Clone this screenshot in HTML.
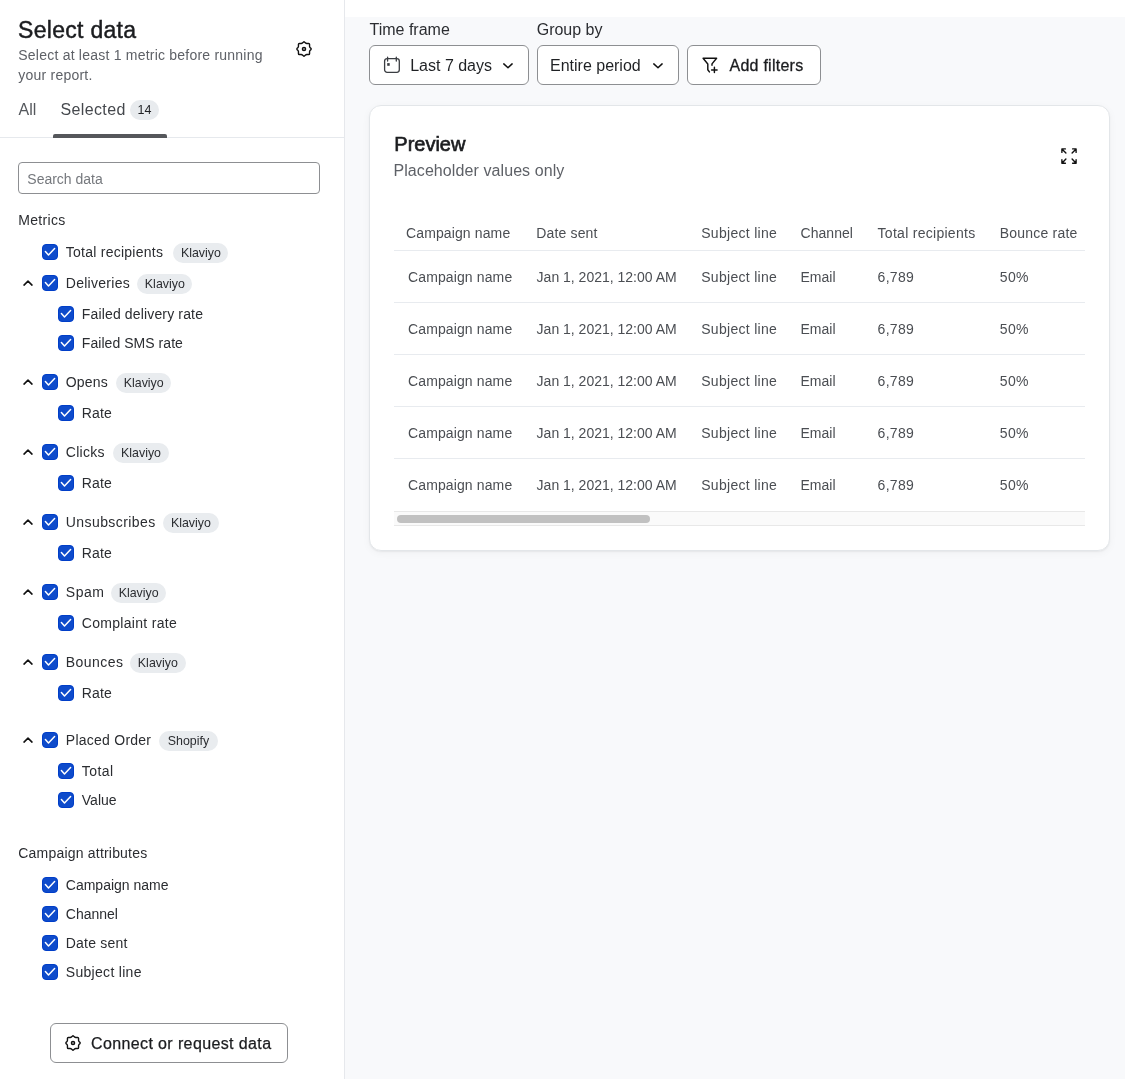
<!DOCTYPE html>
<html><head><meta charset="utf-8"><style>
html,body{margin:0;padding:0;width:1125px;height:1079px;overflow:hidden;background:#fff;font-family:"Liberation Sans", sans-serif;}
.a{position:absolute;}
.t{position:absolute;white-space:nowrap;}
#right{position:absolute;left:345px;top:17px;width:780px;height:1062px;background:#f8f9fb;}
#divider{position:absolute;left:344px;top:0;width:1px;height:1079px;background:#e6e8ec;}
.badge{position:absolute;height:20px;border-radius:10px;background:#e9ecef;color:#2b2d31;font-size:12.4px;line-height:20px;text-align:center;}
.card{background:#fff;border:1px solid #e3e6e9;border-radius:12px;box-sizing:border-box;box-shadow:0 1px 2px rgba(0,0,0,0.06), 0 2px 8px rgba(0,0,0,0.04);}
svg{display:block;overflow:visible}
#layer{position:absolute;left:0;top:0;width:1125px;height:1079px;will-change:transform;}
</style></head><body>
<div id="right"></div>
<div id="divider"></div>
<div id="layer"><div class="t" style="left:18.00px;top:18.73px;font-size:23px;line-height:23px;color:#1b1c1f;font-weight:400;letter-spacing:0.3px;-webkit-text-stroke:0.45px #1b1c1f">Select data</div>
<div class="t" style="left:18.30px;top:47.95px;font-size:14px;line-height:14px;color:#5e6167;font-weight:400;letter-spacing:0.22px">Select at least 1 metric before running</div>
<div class="t" style="left:18.30px;top:67.85px;font-size:14px;line-height:14px;color:#5e6167;font-weight:400;letter-spacing:0.22px">your report.</div>
<div class="a" style="left:296px;top:41px;width:16px;height:16px"><svg width="16" height="16" viewBox="0 0 16 16"><path d="M7.36 1.14 Q8.00 0.50 8.64 1.14 L9.31 1.81 Q9.95 2.45 10.85 2.45 L12.65 2.45 Q13.55 2.45 13.55 3.35 L13.55 5.15 Q13.55 6.05 14.19 6.69 L14.86 7.36 Q15.50 8.00 14.86 8.64 L14.19 9.31 Q13.55 9.95 13.55 10.85 L13.55 12.65 Q13.55 13.55 12.65 13.55 L10.85 13.55 Q9.95 13.55 9.31 14.19 L8.64 14.86 Q8.00 15.50 7.36 14.86 L6.69 14.19 Q6.05 13.55 5.15 13.55 L3.35 13.55 Q2.45 13.55 2.45 12.65 L2.45 10.85 Q2.45 9.95 1.81 9.31 L1.14 8.64 Q0.50 8.00 1.14 7.36 L1.81 6.69 Q2.45 6.05 2.45 5.15 L2.45 3.35 Q2.45 2.45 3.35 2.45 L5.15 2.45 Q6.05 2.45 6.69 1.81 Z" fill="none" stroke="#111" stroke-width="1.4" stroke-linejoin="round"/><circle cx="8" cy="8" r="1.6" fill="#999" stroke="#111" stroke-width="1.4"/></svg></div>
<div class="t" style="left:18.60px;top:102.16px;font-size:16px;line-height:16px;color:#55585d;font-weight:400;">All</div>
<div class="t" style="left:60.60px;top:102.16px;font-size:16px;line-height:16px;color:#45484d;font-weight:400;letter-spacing:0.35px">Selected</div>
<div class="a" style="left:130px;top:100px;width:29px;height:20px;border-radius:10px;background:#e8ebee;font-size:12.5px;line-height:20px;text-align:center;color:#1f2124">14</div>
<div class="a" style="left:0;top:137px;width:344px;height:1px;background:#e6e9ed"></div>
<div class="a" style="left:53px;top:134px;width:114px;height:4px;background:#55575b;border-radius:2px 2px 0 0"></div>
<div class="a" style="left:18px;top:162px;width:302px;height:32px;box-sizing:border-box;border:1px solid #8d8f92;border-radius:4px;background:#fff"></div>
<div class="t" style="left:27.30px;top:172.05px;font-size:14px;line-height:14px;color:#75787d;font-weight:400;">Search data</div>
<div class="t" style="left:18.30px;top:213.15px;font-size:14px;line-height:14px;color:#2b2d31;font-weight:400;letter-spacing:0.3px">Metrics</div>
<div class="a" style="left:42px;top:244px;width:16px;height:16px"><svg width="16" height="16" viewBox="0 0 16 16"><rect x="0.5" y="0.5" width="15" height="15" rx="3.5" fill="#0e4bcb" stroke="#003ec8"/><path d="M3.4 7.6 L6.5 10.9 L12.6 4.6" fill="none" stroke="#fff" stroke-width="1.5" stroke-linecap="round" stroke-linejoin="round"/></svg></div>
<div class="t" style="left:65.80px;top:245.15px;font-size:14px;line-height:14px;color:#2b2d31;font-weight:400;letter-spacing:0.25px">Total recipients</div>
<div class="badge" style="left:173.3px;top:242.5px;width:55.2px">Klaviyo</div>
<div class="a" style="left:42px;top:275px;width:16px;height:16px"><svg width="16" height="16" viewBox="0 0 16 16"><rect x="0.5" y="0.5" width="15" height="15" rx="3.5" fill="#0e4bcb" stroke="#003ec8"/><path d="M3.4 7.6 L6.5 10.9 L12.6 4.6" fill="none" stroke="#fff" stroke-width="1.5" stroke-linecap="round" stroke-linejoin="round"/></svg></div>
<div class="t" style="left:65.80px;top:276.15px;font-size:14px;line-height:14px;color:#2b2d31;font-weight:400;letter-spacing:0.27px">Deliveries</div>
<svg class="a" style="left:20px;top:275px" width="16" height="16" viewBox="0 0 16 16"><path d="M4 10.05 L8 6.2 L12 10.05" fill="none" stroke="#111" stroke-width="1.6" stroke-linecap="round" stroke-linejoin="round"/></svg>
<div class="badge" style="left:137.2px;top:273.5px;width:55.3px">Klaviyo</div>
<div class="a" style="left:42px;top:374px;width:16px;height:16px"><svg width="16" height="16" viewBox="0 0 16 16"><rect x="0.5" y="0.5" width="15" height="15" rx="3.5" fill="#0e4bcb" stroke="#003ec8"/><path d="M3.4 7.6 L6.5 10.9 L12.6 4.6" fill="none" stroke="#fff" stroke-width="1.5" stroke-linecap="round" stroke-linejoin="round"/></svg></div>
<div class="t" style="left:65.80px;top:375.15px;font-size:14px;line-height:14px;color:#2b2d31;font-weight:400;letter-spacing:0.15px">Opens</div>
<svg class="a" style="left:20px;top:374px" width="16" height="16" viewBox="0 0 16 16"><path d="M4 10.05 L8 6.2 L12 10.05" fill="none" stroke="#111" stroke-width="1.6" stroke-linecap="round" stroke-linejoin="round"/></svg>
<div class="badge" style="left:116.1px;top:372.5px;width:55.3px">Klaviyo</div>
<div class="a" style="left:42px;top:444px;width:16px;height:16px"><svg width="16" height="16" viewBox="0 0 16 16"><rect x="0.5" y="0.5" width="15" height="15" rx="3.5" fill="#0e4bcb" stroke="#003ec8"/><path d="M3.4 7.6 L6.5 10.9 L12.6 4.6" fill="none" stroke="#fff" stroke-width="1.5" stroke-linecap="round" stroke-linejoin="round"/></svg></div>
<div class="t" style="left:65.80px;top:445.15px;font-size:14px;line-height:14px;color:#2b2d31;font-weight:400;letter-spacing:0.25px">Clicks</div>
<svg class="a" style="left:20px;top:444px" width="16" height="16" viewBox="0 0 16 16"><path d="M4 10.05 L8 6.2 L12 10.05" fill="none" stroke="#111" stroke-width="1.6" stroke-linecap="round" stroke-linejoin="round"/></svg>
<div class="badge" style="left:113.2px;top:442.5px;width:55.7px">Klaviyo</div>
<div class="a" style="left:42px;top:514px;width:16px;height:16px"><svg width="16" height="16" viewBox="0 0 16 16"><rect x="0.5" y="0.5" width="15" height="15" rx="3.5" fill="#0e4bcb" stroke="#003ec8"/><path d="M3.4 7.6 L6.5 10.9 L12.6 4.6" fill="none" stroke="#fff" stroke-width="1.5" stroke-linecap="round" stroke-linejoin="round"/></svg></div>
<div class="t" style="left:65.80px;top:515.15px;font-size:14px;line-height:14px;color:#2b2d31;font-weight:400;letter-spacing:0.42px">Unsubscribes</div>
<svg class="a" style="left:20px;top:514px" width="16" height="16" viewBox="0 0 16 16"><path d="M4 10.05 L8 6.2 L12 10.05" fill="none" stroke="#111" stroke-width="1.6" stroke-linecap="round" stroke-linejoin="round"/></svg>
<div class="badge" style="left:163.0px;top:512.5px;width:55.8px">Klaviyo</div>
<div class="a" style="left:42px;top:584px;width:16px;height:16px"><svg width="16" height="16" viewBox="0 0 16 16"><rect x="0.5" y="0.5" width="15" height="15" rx="3.5" fill="#0e4bcb" stroke="#003ec8"/><path d="M3.4 7.6 L6.5 10.9 L12.6 4.6" fill="none" stroke="#fff" stroke-width="1.5" stroke-linecap="round" stroke-linejoin="round"/></svg></div>
<div class="t" style="left:65.80px;top:585.15px;font-size:14px;line-height:14px;color:#2b2d31;font-weight:400;letter-spacing:0.55px">Spam</div>
<svg class="a" style="left:20px;top:584px" width="16" height="16" viewBox="0 0 16 16"><path d="M4 10.05 L8 6.2 L12 10.05" fill="none" stroke="#111" stroke-width="1.6" stroke-linecap="round" stroke-linejoin="round"/></svg>
<div class="badge" style="left:110.8px;top:582.5px;width:55.7px">Klaviyo</div>
<div class="a" style="left:42px;top:654px;width:16px;height:16px"><svg width="16" height="16" viewBox="0 0 16 16"><rect x="0.5" y="0.5" width="15" height="15" rx="3.5" fill="#0e4bcb" stroke="#003ec8"/><path d="M3.4 7.6 L6.5 10.9 L12.6 4.6" fill="none" stroke="#fff" stroke-width="1.5" stroke-linecap="round" stroke-linejoin="round"/></svg></div>
<div class="t" style="left:65.80px;top:655.15px;font-size:14px;line-height:14px;color:#2b2d31;font-weight:400;letter-spacing:0.45px">Bounces</div>
<svg class="a" style="left:20px;top:654px" width="16" height="16" viewBox="0 0 16 16"><path d="M4 10.05 L8 6.2 L12 10.05" fill="none" stroke="#111" stroke-width="1.6" stroke-linecap="round" stroke-linejoin="round"/></svg>
<div class="badge" style="left:130.0px;top:652.5px;width:55.7px">Klaviyo</div>
<div class="a" style="left:42px;top:732px;width:16px;height:16px"><svg width="16" height="16" viewBox="0 0 16 16"><rect x="0.5" y="0.5" width="15" height="15" rx="3.5" fill="#0e4bcb" stroke="#003ec8"/><path d="M3.4 7.6 L6.5 10.9 L12.6 4.6" fill="none" stroke="#fff" stroke-width="1.5" stroke-linecap="round" stroke-linejoin="round"/></svg></div>
<div class="t" style="left:65.80px;top:733.15px;font-size:14px;line-height:14px;color:#2b2d31;font-weight:400;letter-spacing:0.25px">Placed Order</div>
<svg class="a" style="left:20px;top:732px" width="16" height="16" viewBox="0 0 16 16"><path d="M4 10.05 L8 6.2 L12 10.05" fill="none" stroke="#111" stroke-width="1.6" stroke-linecap="round" stroke-linejoin="round"/></svg>
<div class="badge" style="left:159.1px;top:730.5px;width:58.7px">Shopify</div>
<div class="a" style="left:58px;top:306px;width:16px;height:16px"><svg width="16" height="16" viewBox="0 0 16 16"><rect x="0.5" y="0.5" width="15" height="15" rx="3.5" fill="#0e4bcb" stroke="#003ec8"/><path d="M3.4 7.6 L6.5 10.9 L12.6 4.6" fill="none" stroke="#fff" stroke-width="1.5" stroke-linecap="round" stroke-linejoin="round"/></svg></div>
<div class="t" style="left:81.80px;top:307.15px;font-size:14px;line-height:14px;color:#2b2d31;font-weight:400;letter-spacing:0.15px">Failed delivery rate</div>
<div class="a" style="left:58px;top:335px;width:16px;height:16px"><svg width="16" height="16" viewBox="0 0 16 16"><rect x="0.5" y="0.5" width="15" height="15" rx="3.5" fill="#0e4bcb" stroke="#003ec8"/><path d="M3.4 7.6 L6.5 10.9 L12.6 4.6" fill="none" stroke="#fff" stroke-width="1.5" stroke-linecap="round" stroke-linejoin="round"/></svg></div>
<div class="t" style="left:81.80px;top:336.15px;font-size:14px;line-height:14px;color:#2b2d31;font-weight:400;letter-spacing:0.05px">Failed SMS rate</div>
<div class="a" style="left:58px;top:405px;width:16px;height:16px"><svg width="16" height="16" viewBox="0 0 16 16"><rect x="0.5" y="0.5" width="15" height="15" rx="3.5" fill="#0e4bcb" stroke="#003ec8"/><path d="M3.4 7.6 L6.5 10.9 L12.6 4.6" fill="none" stroke="#fff" stroke-width="1.5" stroke-linecap="round" stroke-linejoin="round"/></svg></div>
<div class="t" style="left:81.80px;top:406.15px;font-size:14px;line-height:14px;color:#2b2d31;font-weight:400;letter-spacing:0.15px">Rate</div>
<div class="a" style="left:58px;top:475px;width:16px;height:16px"><svg width="16" height="16" viewBox="0 0 16 16"><rect x="0.5" y="0.5" width="15" height="15" rx="3.5" fill="#0e4bcb" stroke="#003ec8"/><path d="M3.4 7.6 L6.5 10.9 L12.6 4.6" fill="none" stroke="#fff" stroke-width="1.5" stroke-linecap="round" stroke-linejoin="round"/></svg></div>
<div class="t" style="left:81.80px;top:476.15px;font-size:14px;line-height:14px;color:#2b2d31;font-weight:400;letter-spacing:0.15px">Rate</div>
<div class="a" style="left:58px;top:545px;width:16px;height:16px"><svg width="16" height="16" viewBox="0 0 16 16"><rect x="0.5" y="0.5" width="15" height="15" rx="3.5" fill="#0e4bcb" stroke="#003ec8"/><path d="M3.4 7.6 L6.5 10.9 L12.6 4.6" fill="none" stroke="#fff" stroke-width="1.5" stroke-linecap="round" stroke-linejoin="round"/></svg></div>
<div class="t" style="left:81.80px;top:546.15px;font-size:14px;line-height:14px;color:#2b2d31;font-weight:400;letter-spacing:0.15px">Rate</div>
<div class="a" style="left:58px;top:615px;width:16px;height:16px"><svg width="16" height="16" viewBox="0 0 16 16"><rect x="0.5" y="0.5" width="15" height="15" rx="3.5" fill="#0e4bcb" stroke="#003ec8"/><path d="M3.4 7.6 L6.5 10.9 L12.6 4.6" fill="none" stroke="#fff" stroke-width="1.5" stroke-linecap="round" stroke-linejoin="round"/></svg></div>
<div class="t" style="left:81.80px;top:616.15px;font-size:14px;line-height:14px;color:#2b2d31;font-weight:400;letter-spacing:0.3px">Complaint rate</div>
<div class="a" style="left:58px;top:685px;width:16px;height:16px"><svg width="16" height="16" viewBox="0 0 16 16"><rect x="0.5" y="0.5" width="15" height="15" rx="3.5" fill="#0e4bcb" stroke="#003ec8"/><path d="M3.4 7.6 L6.5 10.9 L12.6 4.6" fill="none" stroke="#fff" stroke-width="1.5" stroke-linecap="round" stroke-linejoin="round"/></svg></div>
<div class="t" style="left:81.80px;top:686.15px;font-size:14px;line-height:14px;color:#2b2d31;font-weight:400;letter-spacing:0.15px">Rate</div>
<div class="a" style="left:58px;top:763px;width:16px;height:16px"><svg width="16" height="16" viewBox="0 0 16 16"><rect x="0.5" y="0.5" width="15" height="15" rx="3.5" fill="#0e4bcb" stroke="#003ec8"/><path d="M3.4 7.6 L6.5 10.9 L12.6 4.6" fill="none" stroke="#fff" stroke-width="1.5" stroke-linecap="round" stroke-linejoin="round"/></svg></div>
<div class="t" style="left:81.80px;top:764.15px;font-size:14px;line-height:14px;color:#2b2d31;font-weight:400;letter-spacing:0.45px">Total</div>
<div class="a" style="left:58px;top:792px;width:16px;height:16px"><svg width="16" height="16" viewBox="0 0 16 16"><rect x="0.5" y="0.5" width="15" height="15" rx="3.5" fill="#0e4bcb" stroke="#003ec8"/><path d="M3.4 7.6 L6.5 10.9 L12.6 4.6" fill="none" stroke="#fff" stroke-width="1.5" stroke-linecap="round" stroke-linejoin="round"/></svg></div>
<div class="t" style="left:81.80px;top:793.15px;font-size:14px;line-height:14px;color:#2b2d31;font-weight:400;letter-spacing:0.0px">Value</div>
<div class="t" style="left:18.30px;top:846.25px;font-size:14px;line-height:14px;color:#2b2d31;font-weight:400;letter-spacing:0.2px">Campaign attributes</div>
<div class="a" style="left:42px;top:877px;width:16px;height:16px"><svg width="16" height="16" viewBox="0 0 16 16"><rect x="0.5" y="0.5" width="15" height="15" rx="3.5" fill="#0e4bcb" stroke="#003ec8"/><path d="M3.4 7.6 L6.5 10.9 L12.6 4.6" fill="none" stroke="#fff" stroke-width="1.5" stroke-linecap="round" stroke-linejoin="round"/></svg></div>
<div class="t" style="left:65.80px;top:878.15px;font-size:14px;line-height:14px;color:#2b2d31;font-weight:400;letter-spacing:0.0px">Campaign name</div>
<div class="a" style="left:42px;top:906px;width:16px;height:16px"><svg width="16" height="16" viewBox="0 0 16 16"><rect x="0.5" y="0.5" width="15" height="15" rx="3.5" fill="#0e4bcb" stroke="#003ec8"/><path d="M3.4 7.6 L6.5 10.9 L12.6 4.6" fill="none" stroke="#fff" stroke-width="1.5" stroke-linecap="round" stroke-linejoin="round"/></svg></div>
<div class="t" style="left:65.80px;top:907.15px;font-size:14px;line-height:14px;color:#2b2d31;font-weight:400;letter-spacing:0.0px">Channel</div>
<div class="a" style="left:42px;top:935px;width:16px;height:16px"><svg width="16" height="16" viewBox="0 0 16 16"><rect x="0.5" y="0.5" width="15" height="15" rx="3.5" fill="#0e4bcb" stroke="#003ec8"/><path d="M3.4 7.6 L6.5 10.9 L12.6 4.6" fill="none" stroke="#fff" stroke-width="1.5" stroke-linecap="round" stroke-linejoin="round"/></svg></div>
<div class="t" style="left:65.80px;top:936.15px;font-size:14px;line-height:14px;color:#2b2d31;font-weight:400;letter-spacing:0.2px">Date sent</div>
<div class="a" style="left:42px;top:964px;width:16px;height:16px"><svg width="16" height="16" viewBox="0 0 16 16"><rect x="0.5" y="0.5" width="15" height="15" rx="3.5" fill="#0e4bcb" stroke="#003ec8"/><path d="M3.4 7.6 L6.5 10.9 L12.6 4.6" fill="none" stroke="#fff" stroke-width="1.5" stroke-linecap="round" stroke-linejoin="round"/></svg></div>
<div class="t" style="left:65.80px;top:965.15px;font-size:14px;line-height:14px;color:#2b2d31;font-weight:400;letter-spacing:0.3px">Subject line</div>
<div class="a" style="left:50px;top:1023px;width:238px;height:40px;box-sizing:border-box;border:1px solid #8d8f92;border-radius:6px;background:#fff"></div>
<div class="a" style="left:65px;top:1035px;width:16px;height:16px"><svg width="16" height="16" viewBox="0 0 16 16"><path d="M7.36 1.14 Q8.00 0.50 8.64 1.14 L9.31 1.81 Q9.95 2.45 10.85 2.45 L12.65 2.45 Q13.55 2.45 13.55 3.35 L13.55 5.15 Q13.55 6.05 14.19 6.69 L14.86 7.36 Q15.50 8.00 14.86 8.64 L14.19 9.31 Q13.55 9.95 13.55 10.85 L13.55 12.65 Q13.55 13.55 12.65 13.55 L10.85 13.55 Q9.95 13.55 9.31 14.19 L8.64 14.86 Q8.00 15.50 7.36 14.86 L6.69 14.19 Q6.05 13.55 5.15 13.55 L3.35 13.55 Q2.45 13.55 2.45 12.65 L2.45 10.85 Q2.45 9.95 1.81 9.31 L1.14 8.64 Q0.50 8.00 1.14 7.36 L1.81 6.69 Q2.45 6.05 2.45 5.15 L2.45 3.35 Q2.45 2.45 3.35 2.45 L5.15 2.45 Q6.05 2.45 6.69 1.81 Z" fill="none" stroke="#111" stroke-width="1.4" stroke-linejoin="round"/><circle cx="8" cy="8" r="1.6" fill="#999" stroke="#111" stroke-width="1.4"/></svg></div>
<div class="t" style="left:91.00px;top:1035.66px;font-size:16px;line-height:16px;color:#1b1c1f;font-weight:400;letter-spacing:0.38px;-webkit-text-stroke:0.25px #1b1c1f">Connect or request data</div>
<div class="t" style="left:369.50px;top:22.26px;font-size:16px;line-height:16px;color:#2b2d31;font-weight:400;">Time frame</div>
<div class="t" style="left:536.70px;top:22.26px;font-size:16px;line-height:16px;color:#2b2d31;font-weight:400;">Group by</div>
<div class="a" style="left:369px;top:45px;width:160px;height:40px;box-sizing:border-box;border:1px solid #8d8f92;border-radius:6px;background:#fff"></div>
<div class="a" style="left:537px;top:45px;width:142px;height:40px;box-sizing:border-box;border:1px solid #8d8f92;border-radius:6px;background:#fff"></div>
<div class="a" style="left:687px;top:45px;width:134px;height:40px;box-sizing:border-box;border:1px solid #8d8f92;border-radius:6px;background:#fff"></div>
<div class="a" style="left:384px;top:57px"><svg width="22" height="22" viewBox="0 0 22 22"><rect x="0.6" y="1.6" width="14.7" height="13.7" rx="2.5" fill="none" stroke="#3a3d42" stroke-width="1.3"/><path d="M3.6 0.2 V4 M12.3 0.2 V4" stroke="#3a3d42" stroke-width="1.3" stroke-linecap="round"/><rect x="3.2" y="6.1" width="2.5" height="2.7" fill="#3a3d42"/></svg></div>
<div class="t" style="left:410.20px;top:57.86px;font-size:16px;line-height:16px;color:#1f2124;font-weight:400;">Last 7 days</div>
<svg class="a" style="left:500px;top:58px" width="16" height="16" viewBox="0 0 16 16"><path d="M3.8 5.9 L8 9.7 L12.1 5.9" fill="none" stroke="#111" stroke-width="1.5" stroke-linecap="round" stroke-linejoin="round"/></svg>
<div class="t" style="left:550.00px;top:57.86px;font-size:16px;line-height:16px;color:#1f2124;font-weight:400;">Entire period</div>
<svg class="a" style="left:650px;top:58px" width="16" height="16" viewBox="0 0 16 16"><path d="M3.8 5.9 L8 9.7 L12.1 5.9" fill="none" stroke="#111" stroke-width="1.5" stroke-linecap="round" stroke-linejoin="round"/></svg>
<div class="a" style="left:699px;top:53px"><svg width="22" height="22" viewBox="0 0 22 22"><path d="M4.1 5.3 H17.6 L13 10.9 V12.2 M4.1 5.3 L8.8 11 V16.7 L10.4 18.9 M15.4 14.2 V19.6 M12.6 16.9 H18.1" fill="none" stroke="#111" stroke-width="1.45" stroke-linecap="round" stroke-linejoin="round"/></svg></div>
<div class="t" style="left:729.50px;top:58.06px;font-size:16px;line-height:16px;color:#1b1c1f;font-weight:400;letter-spacing:0.25px;-webkit-text-stroke:0.3px #1b1c1f">Add filters</div>
<div class="a card" style="left:369px;top:105px;width:741px;height:446px"></div>
<div class="t" style="left:394.30px;top:134.27px;font-size:20px;line-height:20px;color:#1b1c1f;font-weight:400;-webkit-text-stroke:0.65px #1b1c1f">Preview</div>
<div class="t" style="left:393.40px;top:162.86px;font-size:16px;line-height:16px;color:#5e6167;font-weight:400;letter-spacing:0.09px">Placeholder values only</div>
<div class="a" style="left:1061px;top:148px"><svg width="16" height="16" viewBox="0 0 16 16"><path d="M0.9 4.4 V0.9 H4.4 M0.9 0.9 L4.9 5 M11.6 0.9 H15.1 V4.4 M15.1 0.9 L11.1 5 M0.9 11.7 V15.2 H4.4 M0.9 15.2 L4.9 11 M15.1 11.7 V15.2 H11.6 M15.1 15.2 L11.1 11" fill="none" stroke="#111" stroke-width="1.4" stroke-linecap="round" stroke-linejoin="round"/></svg></div>
<div class="a" style="left:394px;top:250px;width:691px;height:1px;background:#e8ebef"></div>
<div class="a" style="left:394px;top:302px;width:691px;height:1px;background:#e8ebef"></div>
<div class="a" style="left:394px;top:354px;width:691px;height:1px;background:#e8ebef"></div>
<div class="a" style="left:394px;top:406px;width:691px;height:1px;background:#e8ebef"></div>
<div class="a" style="left:394px;top:458px;width:691px;height:1px;background:#e8ebef"></div>
<div class="t" style="left:406.00px;top:226.05px;font-size:14px;line-height:14px;color:#4b4e53;font-weight:400;letter-spacing:0.12px">Campaign name</div>
<div class="t" style="left:536.30px;top:226.05px;font-size:14px;line-height:14px;color:#4b4e53;font-weight:400;letter-spacing:0.15px">Date sent</div>
<div class="t" style="left:701.20px;top:226.05px;font-size:14px;line-height:14px;color:#4b4e53;font-weight:400;letter-spacing:0.3px">Subject line</div>
<div class="t" style="left:800.50px;top:226.05px;font-size:14px;line-height:14px;color:#4b4e53;font-weight:400;letter-spacing:0.05px">Channel</div>
<div class="t" style="left:877.60px;top:226.05px;font-size:14px;line-height:14px;color:#4b4e53;font-weight:400;letter-spacing:0.28px">Total recipients</div>
<div class="t" style="left:999.80px;top:226.05px;font-size:14px;line-height:14px;color:#4b4e53;font-weight:400;letter-spacing:0.2px">Bounce rate</div>
<div class="t" style="left:408.00px;top:269.85px;font-size:14px;line-height:14px;color:#4b4e53;font-weight:400;letter-spacing:0.12px">Campaign name</div>
<div class="t" style="left:536.60px;top:269.85px;font-size:14px;line-height:14px;color:#4b4e53;font-weight:400;letter-spacing:0px">Jan 1, 2021, 12:00 AM</div>
<div class="t" style="left:701.20px;top:269.85px;font-size:14px;line-height:14px;color:#4b4e53;font-weight:400;letter-spacing:0.3px">Subject line</div>
<div class="t" style="left:800.50px;top:269.85px;font-size:14px;line-height:14px;color:#4b4e53;font-weight:400;letter-spacing:0px">Email</div>
<div class="t" style="left:877.60px;top:269.85px;font-size:14px;line-height:14px;color:#4b4e53;font-weight:400;letter-spacing:0.3px">6,789</div>
<div class="t" style="left:999.80px;top:269.85px;font-size:14px;line-height:14px;color:#4b4e53;font-weight:400;letter-spacing:0.3px">50%</div>
<div class="t" style="left:408.00px;top:321.85px;font-size:14px;line-height:14px;color:#4b4e53;font-weight:400;letter-spacing:0.12px">Campaign name</div>
<div class="t" style="left:536.60px;top:321.85px;font-size:14px;line-height:14px;color:#4b4e53;font-weight:400;letter-spacing:0px">Jan 1, 2021, 12:00 AM</div>
<div class="t" style="left:701.20px;top:321.85px;font-size:14px;line-height:14px;color:#4b4e53;font-weight:400;letter-spacing:0.3px">Subject line</div>
<div class="t" style="left:800.50px;top:321.85px;font-size:14px;line-height:14px;color:#4b4e53;font-weight:400;letter-spacing:0px">Email</div>
<div class="t" style="left:877.60px;top:321.85px;font-size:14px;line-height:14px;color:#4b4e53;font-weight:400;letter-spacing:0.3px">6,789</div>
<div class="t" style="left:999.80px;top:321.85px;font-size:14px;line-height:14px;color:#4b4e53;font-weight:400;letter-spacing:0.3px">50%</div>
<div class="t" style="left:408.00px;top:373.85px;font-size:14px;line-height:14px;color:#4b4e53;font-weight:400;letter-spacing:0.12px">Campaign name</div>
<div class="t" style="left:536.60px;top:373.85px;font-size:14px;line-height:14px;color:#4b4e53;font-weight:400;letter-spacing:0px">Jan 1, 2021, 12:00 AM</div>
<div class="t" style="left:701.20px;top:373.85px;font-size:14px;line-height:14px;color:#4b4e53;font-weight:400;letter-spacing:0.3px">Subject line</div>
<div class="t" style="left:800.50px;top:373.85px;font-size:14px;line-height:14px;color:#4b4e53;font-weight:400;letter-spacing:0px">Email</div>
<div class="t" style="left:877.60px;top:373.85px;font-size:14px;line-height:14px;color:#4b4e53;font-weight:400;letter-spacing:0.3px">6,789</div>
<div class="t" style="left:999.80px;top:373.85px;font-size:14px;line-height:14px;color:#4b4e53;font-weight:400;letter-spacing:0.3px">50%</div>
<div class="t" style="left:408.00px;top:425.85px;font-size:14px;line-height:14px;color:#4b4e53;font-weight:400;letter-spacing:0.12px">Campaign name</div>
<div class="t" style="left:536.60px;top:425.85px;font-size:14px;line-height:14px;color:#4b4e53;font-weight:400;letter-spacing:0px">Jan 1, 2021, 12:00 AM</div>
<div class="t" style="left:701.20px;top:425.85px;font-size:14px;line-height:14px;color:#4b4e53;font-weight:400;letter-spacing:0.3px">Subject line</div>
<div class="t" style="left:800.50px;top:425.85px;font-size:14px;line-height:14px;color:#4b4e53;font-weight:400;letter-spacing:0px">Email</div>
<div class="t" style="left:877.60px;top:425.85px;font-size:14px;line-height:14px;color:#4b4e53;font-weight:400;letter-spacing:0.3px">6,789</div>
<div class="t" style="left:999.80px;top:425.85px;font-size:14px;line-height:14px;color:#4b4e53;font-weight:400;letter-spacing:0.3px">50%</div>
<div class="t" style="left:408.00px;top:477.85px;font-size:14px;line-height:14px;color:#4b4e53;font-weight:400;letter-spacing:0.12px">Campaign name</div>
<div class="t" style="left:536.60px;top:477.85px;font-size:14px;line-height:14px;color:#4b4e53;font-weight:400;letter-spacing:0px">Jan 1, 2021, 12:00 AM</div>
<div class="t" style="left:701.20px;top:477.85px;font-size:14px;line-height:14px;color:#4b4e53;font-weight:400;letter-spacing:0.3px">Subject line</div>
<div class="t" style="left:800.50px;top:477.85px;font-size:14px;line-height:14px;color:#4b4e53;font-weight:400;letter-spacing:0px">Email</div>
<div class="t" style="left:877.60px;top:477.85px;font-size:14px;line-height:14px;color:#4b4e53;font-weight:400;letter-spacing:0.3px">6,789</div>
<div class="t" style="left:999.80px;top:477.85px;font-size:14px;line-height:14px;color:#4b4e53;font-weight:400;letter-spacing:0.3px">50%</div>
<div class="a" style="left:394px;top:511px;width:691px;height:15px;box-sizing:border-box;background:#fafafa;border-top:1px solid #e8e8e8;border-bottom:1px solid #e8e8e8"></div>
<div class="a" style="left:397px;top:515px;width:253px;height:8px;border-radius:4px;background:#c1c1c1"></div></div>
</body></html>
